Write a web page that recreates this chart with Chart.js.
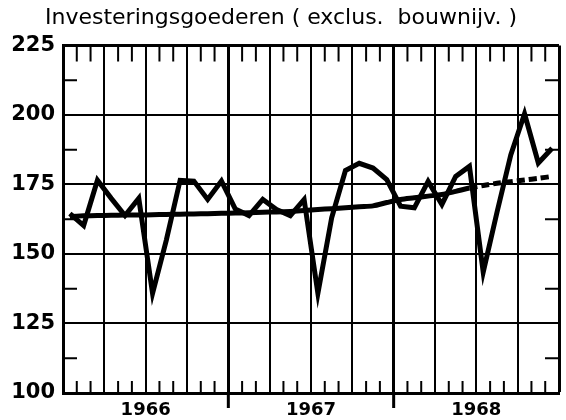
<!DOCTYPE html>
<html>
<head>
<meta charset="utf-8">
<script src="https://cdn.jsdelivr.net/npm/chart.js@4.4.0/dist/chart.umd.min.js"></script>
<style>
  body { margin: 0; background: #fff; }
  #wrap { width: 566px; height: 420px; }
</style>
</head>
<body>
<div id="wrap"><canvas id="investChart"></canvas></div>
<script>
// ---- data (monthly, Jan 1966 - Dec 1968) ----
const years = ['1966', '1967', '1968'];
const indexValues = [
  164.5, 160.2, 176.5, 170.0, 163.8, 170.0, 135.8, 155.0, 176.5, 176.2, 169.6, 176.2,
  166.2, 163.8, 169.6, 166.0, 163.8, 169.6, 135.8, 163.0, 180.0, 182.6, 180.9, 176.7,
  167.2, 166.6, 176.1, 167.8, 177.9, 181.5, 143.5, 165.0, 185.6, 200.4, 182.7, 188.0
];
const trendValues = [
  163.5, 163.7, 163.8, 163.9, 164.0, 164.0, 164.1, 164.2, 164.3, 164.4, 164.5, 164.6,
  164.7, 164.8, 165.0, 165.1, 165.3, 165.6, 166.0, 166.3, 166.6, 167.0, 167.3, 168.5,
  169.6, 170.2, 170.8, 171.4, 172.5, 173.7, 174.6, 175.4, 176.0, 176.6, 177.2, 177.9
];
const trendDashedFrom = 29;       // trend is extrapolated (dotted) from here on
const yTicks = [100, 125, 150, 175, 200, 225];
const yMinorTicks = [112.5, 137.5, 162.5, 187.5, 212.5];
const title = 'Investeringsgoederen ( exclus.  bouwnijv. )';

const toPoints = arr => arr.map((v, i) => ({ x: i + 0.5, y: v }));
const yearBreaks = years.slice(1).map((_, i) => (i + 1) * 12);
const yearLabelAt = {};
years.forEach((yr, i) => { yearLabelAt[i * 12 + 6] = yr; });

// small month ticks, quarter-inner ticks on the y sides, year marks below axis
const tickMarks = {
  id: 'tickMarks',
  beforeDatasetsDraw(chart) {
    const { ctx, chartArea: a, scales: { x, y } } = chart;
    ctx.save();
    ctx.strokeStyle = '#000';
    ctx.lineWidth = 2;
    ctx.beginPath();
    for (let m = 1; m < years.length * 12; m++) {
      if (m % 3 === 0) continue;
      const px = x.getPixelForValue(m);
      ctx.moveTo(px, a.top); ctx.lineTo(px, a.top + 16);
      ctx.moveTo(px, a.bottom); ctx.lineTo(px, a.bottom - 12);
    }
    yMinorTicks.forEach(v => {
      const py = y.getPixelForValue(v);
      ctx.moveTo(a.left, py); ctx.lineTo(a.left + 14, py);
      ctx.moveTo(a.right, py); ctx.lineTo(a.right - 14, py);
    });
    ctx.stroke();
    ctx.lineWidth = 3;
    ctx.beginPath();
    yearBreaks.forEach(m => {
      const px = x.getPixelForValue(m);
      ctx.moveTo(px, a.bottom); ctx.lineTo(px, a.bottom + 15);
    });
    ctx.stroke();
    ctx.restore();
  }
};

const canvas = document.getElementById('investChart');
new Chart(canvas.getContext('2d'), {
  type: 'line',
  data: {
    datasets: [
      {
        label: 'trend',
        data: toPoints(trendValues),
        borderColor: '#000',
        borderWidth: 5,
        pointRadius: 0,
        tension: 0.3,
        segment: {
          borderDash: c => (c.p0DataIndex >= trendDashedFrom ? [8, 4] : undefined)
        }
      },
      {
        label: 'index',
        data: toPoints(indexValues),
        borderColor: '#000',
        borderWidth: 5,
        pointRadius: 0,
        tension: 0
      }
    ]
  },
  options: {
    responsive: true,
    maintainAspectRatio: false,
    animation: false,
    layout: { padding: { left: 0, right: 4, top: 0, bottom: 0 } },
    plugins: {
      legend: { display: false },
      tooltip: { enabled: false },
      title: {
        display: true,
        text: title,
        color: '#000',
        font: { family: 'DejaVu Sans', size: 22, weight: 'normal' },
        padding: { top: 5, bottom: 14 }
      }
    },
    scales: {
      x: {
        type: 'linear',
        min: 0,
        max: years.length * 12,
        afterBuildTicks: s => {
          s.ticks = [];
          for (let v = 0; v <= years.length * 12; v += 3) s.ticks.push({ value: v });
        },
        afterFit: s => { s.height = 27; },
        ticks: {
          autoSkip: false,
          maxRotation: 0,
          padding: 7,
          color: '#000',
          font: { family: 'DejaVu Sans', size: 18, weight: 'bold' },
          callback: v => yearLabelAt[v] || ''
        },
        grid: {
          color: '#000',
          drawTicks: false,
          lineWidth: c => (yearBreaks.includes(c.tick.value) || c.tick.value === years.length * 12 ? 3 : 2)
        },
        border: { display: true, color: '#000', width: 3 }
      },
      y: {
        min: yTicks[0],
        max: yTicks[yTicks.length - 1],
        afterBuildTicks: s => { s.ticks = yTicks.map(v => ({ value: v })); },
        afterFit: s => { s.width = 63; },
        ticks: {
          padding: 8,
          color: '#000',
          font: { family: 'DejaVu Sans', size: 21, weight: 'bold' }
        },
        grid: {
          color: '#000',
          drawTicks: false,
          lineWidth: c => (c.tick.value === yTicks[yTicks.length - 1] ? 3 : 2)
        },
        border: { display: true, color: '#000', width: 3 }
      }
    }
  },
  plugins: [tickMarks]
});
</script>
</body>
</html>
